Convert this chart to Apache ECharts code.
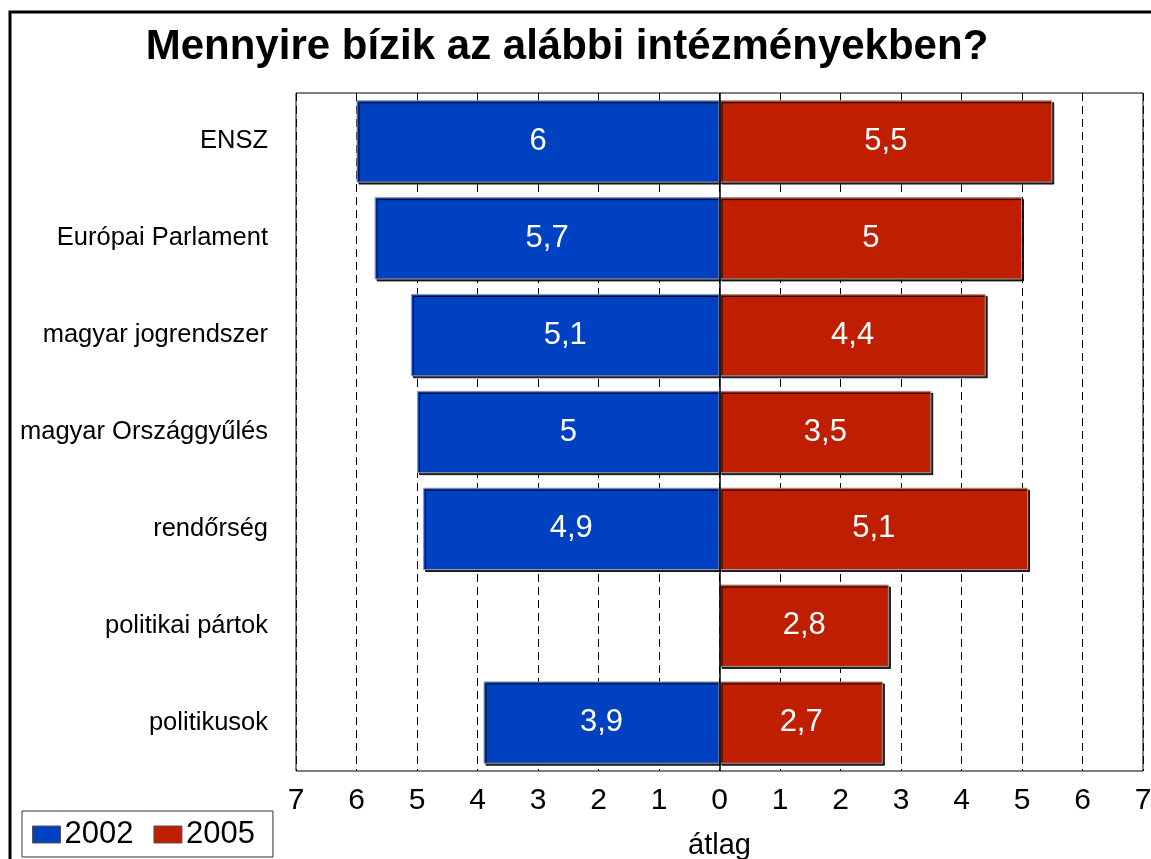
<!DOCTYPE html>
<html>
<head>
<meta charset="utf-8">
<script src="https://cdn.jsdelivr.net/npm/echarts@6/dist/echarts.min.js"></script>
<style>html,body{margin:0;padding:0;background:#fff;}#c{width:1151px;height:859px;}</style>
</head>
<body>
<div id="c"></div>
<script>
const categories = ['ENSZ', 'Európai Parlament', 'magyar jogrendszer', 'magyar Országgyűlés', 'rendőrség', 'politikai pártok', 'politikusok'];
const values2002 = [6, 5.7, 5.1, 5, 4.9, null, 3.9];
const values2005 = [5.5, 5, 4.4, 3.5, 5.1, 2.8, 2.7];
const tickValues = [-7, -6, -5, -4, -3, -2, -1, 0, 1, 2, 3, 4, 5, 6, 7];

const fmt = v => String(Math.abs(v)).replace('.', ',');
const FONT = 'Liberation Sans, Arial, sans-serif';

const chart = echarts.init(document.getElementById('c'), null, {renderer: 'canvas'});
const barStyle = (color) => ({
  color: color,
  borderColor: '#9a9a9a',
  borderWidth: 1,
  shadowColor: 'rgba(0,0,0,0.85)',
  shadowBlur: 0,
  shadowOffsetX: 2,
  shadowOffsetY: 2
});
chart.setOption({
  animation: false,
  backgroundColor: '#fff',
  textStyle: {fontFamily: FONT},
  title: {
    text: 'Mennyire bízik az alábbi intézményekben?',
    left: 562, textAlign: 'center', top: 21,
    textStyle: {fontFamily: FONT, fontSize: 42, fontWeight: 'bold', color: '#000'}
  },
  legend: {
    left: 22, top: 811,
    padding: [8, 18, 7, 10],
    borderColor: '#333', borderWidth: 1,
    itemWidth: 28, itemHeight: 17, itemGap: 20,
    icon: 'rect',
    textStyle: {fontFamily: FONT, fontSize: 31, color: '#000', padding: [2, 0, 0, -1]},
    data: [
      {name: '2002', itemStyle: {color: '#0041C2', borderColor: '#555', borderWidth: 1}},
      {name: '2005', itemStyle: {color: '#BF1F00', borderColor: '#555', borderWidth: 1}}
    ]
  },
  grid: {left: 296, right: 8, top: 93, bottom: 88, show: true, borderColor: '#000', borderWidth: 1, containLabel: false, outerBoundsMode: 'none'},
  xAxis: {
    type: 'value', min: -7, max: 7, interval: 1,
    name: 'átlag', nameLocation: 'middle', nameGap: 60,
    nameTextStyle: {fontFamily: FONT, fontSize: 29, color: '#000'},
    axisLine: {show: false},
    axisTick: {show: false},
    axisLabel: {fontFamily: FONT, fontSize: 30, color: '#000', margin: 15, formatter: v => String(Math.abs(v))},
    splitLine: {show: true, lineStyle: {color: '#000', width: 1, type: [8, 5]}}
  },
  yAxis: {
    type: 'category', data: categories, inverse: true,
    axisLine: {show: false, onZero: false},
    axisTick: {show: false},
    axisLabel: {fontFamily: FONT, fontSize: 25.5, color: '#000', margin: 28},
    splitLine: {show: false}
  },
  series: [
    {
      name: '2002', type: 'bar', barWidth: '85%', barGap: '-100%',
      data: values2002.map(v => v == null ? null : -v),
      itemStyle: barStyle('#0041C2'),
      label: {show: true, position: 'inside', color: '#fff', fontFamily: FONT, fontSize: 31, formatter: p => fmt(p.value)},
      markLine: {
        silent: true, symbol: 'none', label: {show: false},
        lineStyle: {color: '#000', width: 1.5, type: 'solid'},
        data: [{xAxis: 0}]
      },
      z: 3
    },
    {
      name: '2005', type: 'bar', barWidth: '85%', barGap: '-100%',
      data: values2005,
      itemStyle: barStyle('#BF1F00'),
      label: {show: true, position: 'inside', color: '#fff', fontFamily: FONT, fontSize: 31, formatter: p => fmt(p.value)},
      z: 3
    }
  ],
  graphic: [{
    type: 'rect', silent: true, z: 100,
    shape: {x: 10, y: 12, width: 1160, height: 870},
    style: {fill: 'none', stroke: '#000', lineWidth: 3}
  }]
});
</script>
</body>
</html>
